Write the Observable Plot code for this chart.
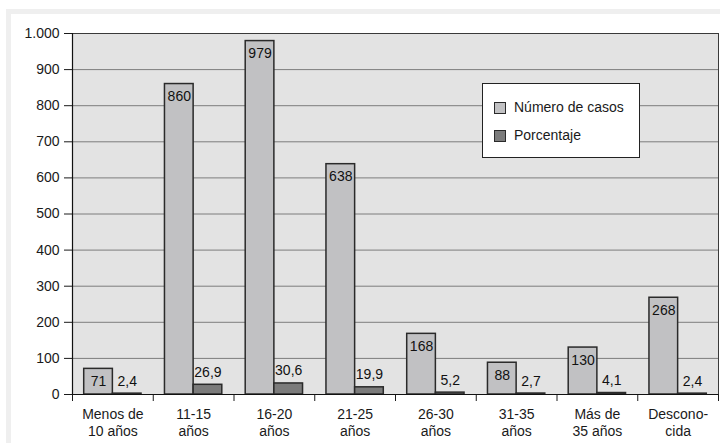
<!DOCTYPE html>
<html>
<head>
<meta charset="utf-8">
<script src="https://cdn.jsdelivr.net/npm/d3@7"></script>
<script src="https://cdn.jsdelivr.net/npm/@observablehq/plot@0.6"></script>
<style>
  html, body { margin: 0; padding: 0; background: #ffffff; }
  #page { position: relative; width: 720px; height: 443px; overflow: hidden; font-family: "Liberation Sans", Arial, Helvetica, sans-serif; }
  #card { position: absolute; left: 6px; top: 9px; width: 760px; height: 480px; border-top: 5px solid #efefef; border-left: 5px solid #efefef; }
  #chart { position: absolute; left: 0; top: 0; }
  #legend { position: absolute; left: 482px; top: 83px; width: 158px; height: 75px; background: #ffffff; border: 1px solid #222; box-sizing: border-box; color: #1a1a1a; font-size: 14px; }
  .sw { position: absolute; left: 11px; width: 10px; height: 10px; border: 1px solid #2a2a2a; }
  .lb { position: absolute; left: 31px; line-height: 16px; white-space: nowrap; }
</style>
</head>
<body>
<div id="page">
  <div id="card"></div>
  <div id="chart"></div>
  <div id="legend"></div>
</div>
<script>
const categories = ["Menos de\n10 años", "11-15\naños", "16-20\naños", "21-25\naños", "26-30\naños", "31-35\naños", "Más de\n35 años", "Descono-\ncida"];
const casos = [71, 860, 979, 638, 168, 88, 130, 268];
const porcentaje = [2.4, 26.9, 30.6, 19.9, 5.2, 2.7, 4.1, 2.4];
const yTicks = [0, 100, 200, 300, 400, 500, 600, 700, 800, 900, 1000];
const seriesNames = ["Número de casos", "Porcentaje"];
const seriesColors = ["#c1c1c3", "#7b7b7b"];

const es = d3.formatLocale({decimal: ",", thousands: ".", grouping: [3], currency: ["", " €"]});
const fmtInt = es.format(",d");
const fmtDec = es.format(".1f");

const rows = categories.map((c, i) => ({i, cat: c, casos: casos[i], pct: porcentaje[i]}));

const chart = Plot.plot({
  width: 720,
  height: 443,
  marginLeft: 72,
  marginRight: 2,
  marginTop: 33,
  marginBottom: 49,
  x: {domain: [0, categories.length], axis: null},
  y: {domain: [0, 1000], axis: null},
  style: {fontFamily: "'Liberation Sans', Arial, Helvetica, sans-serif", fontSize: "14px", color: "#1a1a1a", background: "transparent", overflow: "visible"},
  marks: [
    Plot.frame({fill: "#e3e3e3"}),
    Plot.ruleY(yTicks, {stroke: "#7d7d7d", strokeWidth: 1}),
    Plot.frame({stroke: "#3a3a3a"}),
    Plot.axisY({ticks: yTicks, tickSize: 8, tickPadding: 5, tickFormat: fmtInt, fontSize: 14}),
    Plot.axisX({ticks: d3.range(categories.length + 1), tickSize: 7, tickFormat: () => ""}),
    Plot.axisX({ticks: categories.map((_, i) => i + 0.5), tickSize: 0, tickPadding: 13, tickFormat: d => categories[Math.round(d - 0.5)], lineHeight: 1.2, fontSize: 14}),
    Plot.rectY(rows, {x1: d => d.i + 0.145, x2: d => d.i + 0.5, y1: 0, y2: "casos", fill: seriesColors[0], stroke: "#2a2a2a", strokeWidth: 1.5}),
    Plot.rectY(rows, {x1: d => d.i + 0.5, x2: d => d.i + 0.855, y1: 0, y2: "pct", fill: seriesColors[1], stroke: "#2a2a2a", strokeWidth: 1.5}),
    Plot.text(rows, {x: d => d.i + 0.3225, y: "casos", text: d => fmtInt(d.casos), lineAnchor: "top", dy: 7, fontSize: 14, fill: "#111"}),
    Plot.text(rows, {x: d => d.i + 0.6775, y: "pct", text: d => fmtDec(d.pct), lineAnchor: "bottom", dy: -8, fontSize: 14, fill: "#111"}),
    Plot.ruleX([0], {stroke: "#111", strokeWidth: 1.2}),
    Plot.ruleY([0], {stroke: "#111", strokeWidth: 1.2})
  ]
});
document.getElementById("chart").appendChild(chart);

const legend = document.getElementById("legend");
const tops = [17, 45];
seriesNames.forEach((name, k) => {
  const sw = document.createElement("div");
  sw.className = "sw";
  sw.style.top = (tops[k] + 1) + "px";
  sw.style.background = seriesColors[k];
  legend.appendChild(sw);
  const lb = document.createElement("div");
  lb.className = "lb";
  lb.style.top = (tops[k] - 2) + "px";
  lb.textContent = name;
  legend.appendChild(lb);
});
</script>
</body>
</html>
